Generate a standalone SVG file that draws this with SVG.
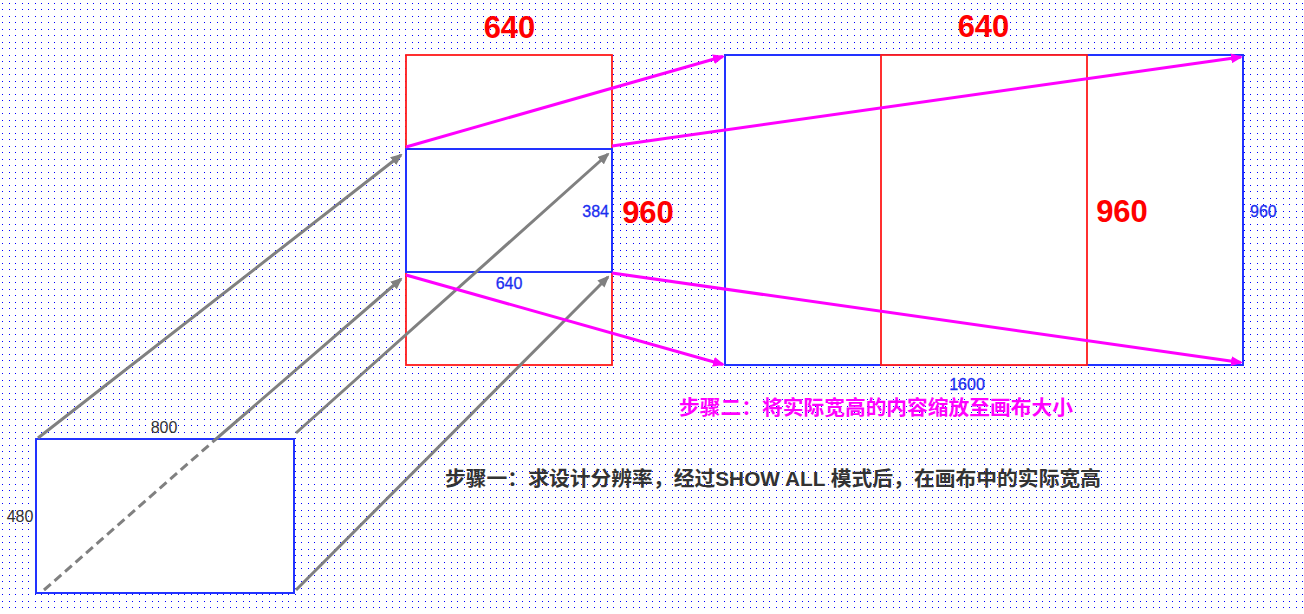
<svg xmlns="http://www.w3.org/2000/svg" width="1304" height="614" viewBox="0 0 1304 614">
  <style>
    .box { fill: #ffffff; }
    .blue { stroke: #2233ff; stroke-width: 2; }
    .red { stroke: #ff1a1a; stroke-width: 1.8; }
    .gray { stroke: #808080; stroke-width: 3; fill: none; }
    .mag { stroke: #ff00ff; stroke-width: 3; fill: none; }
    .dot { fill: #0000ff; }
    .big { font-family: "Liberation Sans", Arial, sans-serif; font-weight: bold; font-size: 31px; fill: #ff0000; text-anchor: middle; }
    .dim { font-family: "Liberation Sans", Arial, sans-serif; font-size: 16px; fill: #1a2ef0; stroke: #1a2ef0; stroke-width: 0.3; }
    .dimdark { font-family: "Liberation Sans", Arial, sans-serif; font-size: 16px; fill: #333333; text-anchor: middle; }
    .step { font-family: "Liberation Sans", "Noto Sans CJK SC", sans-serif; font-weight: bold; }
  </style>
  <defs>
    <pattern id="dots" x="0" y="0" width="13" height="13" patternUnits="userSpaceOnUse">
      <rect class="dot" x="2" y="3" width="1" height="1"/>
      <rect class="dot" x="9" y="3" width="1" height="1"/>
      <rect class="dot" x="2" y="9" width="1" height="1"/>
      <rect class="dot" x="9" y="9" width="1" height="1"/>
    </pattern>
    <marker id="ag" viewBox="0 0 12 10" refX="10" refY="5" markerWidth="12" markerHeight="10" markerUnits="userSpaceOnUse" orient="auto">
      <path d="M0,0 L12,5 L0,10 z" fill="#808080"/>
    </marker>
    <marker id="am" viewBox="0 0 12 10" refX="10" refY="5" markerWidth="12" markerHeight="10" markerUnits="userSpaceOnUse" orient="auto">
      <path d="M0,0 L12,5 L0,10 z" fill="#ff00ff"/>
    </marker>
  </defs>

  <rect x="0" y="0" width="1304" height="614" fill="#ffffff"/>
  <rect x="0" y="0" width="1304" height="614" fill="url(#dots)"/>

  <g id="design-resolution">
    <rect class="box blue" x="36" y="439" width="258" height="154"/>
    <text class="dimdark" x="164" y="433">800</text>
    <text class="dimdark" x="20" y="522">480</text>
  </g>

  <g id="showall-frame">
    <rect class="box red" x="406" y="55" width="206" height="310"/>
  </g>

  <g id="showall-content">
    <rect class="box blue" x="406" y="149" width="206" height="123"/>
    <text class="dim" x="609" y="217" text-anchor="end">384</text>
    <text class="dim" x="509" y="289" text-anchor="middle">640</text>
  </g>

  <g id="canvas">
    <rect class="box blue" x="725" y="55" width="518" height="310"/>
    <text class="dim" x="1250" y="217">960</text>
    <text class="dim" x="967" y="390" text-anchor="middle">1600</text>
  </g>

  <g id="canvas-inner">
    <rect class="box red" x="881" y="55" width="206" height="310"/>
  </g>

  <g id="labels">
    <text class="big" x="509.5" y="38">640</text>
    <text class="big" x="983.5" y="37">640</text>
    <text class="big" x="648" y="223">960</text>
    <text class="big" x="1122" y="222">960</text>
    <text class="step" x="679" y="415" font-size="20.5" fill="#ff00ff" textLength="394" lengthAdjust="spacingAndGlyphs">步骤二：将实际宽高的内容缩放至画布大小</text>
    <text class="step" x="445" y="486" font-size="20" fill="#333333" textLength="656" lengthAdjust="spacingAndGlyphs">步骤一：求设计分辨率，经过SHOW ALL 模式后，在画布中的实际宽高</text>
  </g>

  <g id="connectors">
    <line class="gray" x1="38" y1="438" x2="401" y2="155" marker-end="url(#ag)"/>
    <line class="gray" x1="44" y1="590" x2="216" y2="439" stroke-dasharray="9 5"/>
    <line class="gray" x1="216" y1="439" x2="401" y2="279" marker-end="url(#ag)"/>
    <line class="gray" x1="296" y1="433" x2="608" y2="154" marker-end="url(#ag)"/>
    <line class="gray" x1="296" y1="590" x2="608" y2="277" marker-end="url(#ag)"/>
    <line class="mag" x1="406" y1="147" x2="723" y2="56.5" marker-end="url(#am)"/>
    <line class="mag" x1="612" y1="146" x2="1241" y2="57" marker-end="url(#am)"/>
    <line class="mag" x1="406" y1="275" x2="723" y2="364.5" marker-end="url(#am)"/>
    <line class="mag" x1="612" y1="273" x2="1241" y2="362.5" marker-end="url(#am)"/>
  </g>
</svg>
